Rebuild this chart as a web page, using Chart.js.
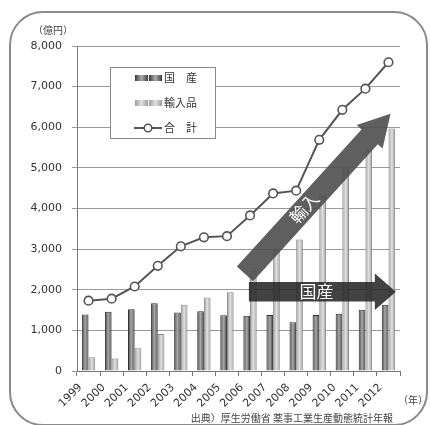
<!DOCTYPE html>
<html>
<head>
<meta charset="utf-8">
<script src="https://cdn.jsdelivr.net/npm/chart.js@4"></script>
<style>
  html, body { margin: 0; padding: 0; background: #fff; }
  #wrap { position: relative; width: 430px; height: 425px; overflow: hidden; }
  #frame { position: absolute; left: 9px; top: 11px; width: 419px; height: 415px;
           border: 2px solid #8a8a8a; border-radius: 34px; box-sizing: border-box; }
  canvas { position: absolute; left: 0; top: 0; }
</style>
</head>
<body>
<div id="wrap">
  <div id="frame"></div>
  <canvas id="chart" width="430" height="425"></canvas>
</div>
<script>
// datos (億円)
const years = ['1999', '2000', '2001', '2002', '2003', '2004', '2005', '2006', '2007', '2008', '2009', '2010', '2011', '2012'];
const domestic = [1390, 1460, 1520, 1670, 1440, 1470, 1370, 1360, 1380, 1200, 1380, 1410, 1510, 1630];
const imports = [340, 310, 560, 910, 1630, 1810, 1940, 2470, 2980, 3240, 4310, 5020, 5440, 5970];
const totals = [1730, 1780, 2080, 2590, 3070, 3290, 3320, 3830, 4370, 4440, 5690, 6430, 6950, 7600];
const legendLabels = ['国　産', '輸入品', '合　計'];
const unitLabel = '（億円）';
const yearLabel = '（年）';
const sourceLabel = '出典）厚生労働省 薬事工業生産動態統計年報';

// flechas: [indice de categoria, valor]
const importArrow = { from: [6.78, 2390], to: [13.09, 6330], text: '輸入' };
const domesticArrow = { from: [6.95, 1950], to: [13.32, 1950], text: '国産' };

const JP = '"Noto Sans CJK JP", sans-serif';
Chart.defaults.font.family = '"DejaVu Sans", sans-serif';
Chart.defaults.color = '#333';

function shade(ctx, el, stops) {
  const g = ctx.createLinearGradient(el.x - el.width / 2, 0, el.x + el.width / 2, 0);
  stops.forEach(([p, c]) => g.addColorStop(p, c));
  return g;
}
const domesticStops = [[0, '#3a3a3a'], [0.35, '#8c8c8c'], [0.5, '#a8a8a8'], [0.65, '#8c8c8c'], [1, '#3a3a3a']];
const importStops = [[0, '#9a9a9a'], [0.5, '#e2e2e2'], [1, '#9a9a9a']];

const barShading = {
  id: 'barShading',
  beforeDatasetsDraw(chart) {
    const ctx = chart.ctx;
    chart.data.datasets.forEach((ds, i) => {
      if (ds.type !== 'bar') return;
      const stops = i === 1 ? domesticStops : importStops;
      chart.getDatasetMeta(i).data.forEach(el => {
        el.options = Object.assign({}, el.options, { backgroundColor: shade(ctx, el, stops) });
      });
    });
  }
};

function drawArrow(ctx, p0, p1, bh, hh, hl, color) {
  const dx = p1[0] - p0[0], dy = p1[1] - p0[1];
  const len = Math.hypot(dx, dy);
  const ux = dx / len, uy = dy / len;
  const nx = -uy, ny = ux;
  const bx = p1[0] - ux * hl, by = p1[1] - uy * hl;
  ctx.beginPath();
  ctx.moveTo(p0[0] + nx * bh, p0[1] + ny * bh);
  ctx.lineTo(bx + nx * bh, by + ny * bh);
  ctx.lineTo(bx + nx * hh, by + ny * hh);
  ctx.lineTo(p1[0], p1[1]);
  ctx.lineTo(bx - nx * hh, by - ny * hh);
  ctx.lineTo(bx - nx * bh, by - ny * bh);
  ctx.lineTo(p0[0] - nx * bh, p0[1] - ny * bh);
  ctx.closePath();
  ctx.fillStyle = color;
  ctx.fill();
  return Math.atan2(dy, dx);
}

const extras = {
  id: 'extras',
  afterDatasetsDraw(chart) {
    const ctx = chart.ctx;
    const xs = chart.scales.x, ys = chart.scales.y;
    const px = (p) => [xs.getPixelForValue(p[0]), ys.getPixelForValue(p[1])];
    ctx.save();

    // flecha 輸入
    let a0 = px(importArrow.from), a1 = px(importArrow.to);
    let ang = drawArrow(ctx, a0, a1, 11, 17.5, 31, 'rgba(78,78,78,0.9)');
    ctx.save();
    ctx.translate(a0[0] + (a1[0] - a0[0]) * 0.40 + 1, a0[1] + (a1[1] - a0[1]) * 0.40 - 2);
    ctx.rotate(ang);
    ctx.fillStyle = '#fff';
    ctx.font = '17px ' + JP;
    ctx.textAlign = 'center';
    ctx.textBaseline = 'middle';
    ctx.fillText(importArrow.text, 0, 0);
    ctx.restore();

    // flecha 国産
    a0 = px(domesticArrow.from); a1 = px(domesticArrow.to);
    drawArrow(ctx, a0, a1, 9.7, 18.3, 21, 'rgba(40,40,40,0.88)');
    ctx.fillStyle = '#fff';
    ctx.font = '17px ' + JP;
    ctx.textAlign = 'center';
    ctx.textBaseline = 'middle';
    ctx.fillText(domesticArrow.text, a0[0] + (a1[0] - a0[0]) * 0.46, a0[1]);

    // leyenda
    const lx = 110, ly = 67, lw = 105, lh = 71;
    ctx.fillStyle = '#fff';
    ctx.fillRect(lx, ly, lw, lh);
    ctx.strokeStyle = '#888';
    ctx.lineWidth = 1;
    ctx.strokeRect(lx + 0.5, ly + 0.5, lw, lh);
    const rows = [78, 103, 128];
    const swatches = [domesticStops, importStops];
    for (let r = 0; r < 2; r++) {
      for (let k = 0; k < 2; k++) {
        const sx = 135 + k * 14;
        const g = ctx.createLinearGradient(sx, 0, sx + 13, 0);
        swatches[r].forEach(([p, c]) => g.addColorStop(p, c));
        ctx.fillStyle = g;
        ctx.fillRect(sx, rows[r] - 3, 13, 6);
      }
    }
    ctx.strokeStyle = '#555';
    ctx.lineWidth = 2;
    ctx.beginPath();
    ctx.moveTo(134, rows[2]); ctx.lineTo(162, rows[2]);
    ctx.stroke();
    ctx.beginPath();
    ctx.arc(148, rows[2], 3.8, 0, Math.PI * 2);
    ctx.fillStyle = '#fff';
    ctx.fill();
    ctx.lineWidth = 1.5;
    ctx.stroke();
    ctx.fillStyle = '#333';
    ctx.font = '11px ' + JP;
    ctx.textAlign = 'left';
    ctx.textBaseline = 'middle';
    legendLabels.forEach((t, i) => ctx.fillText(t, 164, rows[i]));

    // textos
    ctx.fillStyle = '#444';
    ctx.font = '10px ' + JP;
    ctx.textAlign = 'left';
    ctx.fillText(unitLabel, 33, 30);
    ctx.fillText(yearLabel, 398, 400);
    ctx.textAlign = 'right';
    ctx.fillText(sourceLabel, 393, 418);
    ctx.restore();
  }
};

new Chart(document.getElementById('chart'), {
  data: {
    labels: years,
    datasets: [{
      type: 'line',
      label: legendLabels[2],
      data: totals,
      borderColor: '#555',
      borderWidth: 2,
      pointRadius: 4.3,
      pointBackgroundColor: '#fff',
      pointBorderColor: '#555',
      pointBorderWidth: 1.6,
      order: 0
    }, {
      type: 'bar',
      label: legendLabels[0],
      data: domestic,
      backgroundColor: '#777',
      borderColor: '#333',
      borderWidth: 1,
      categoryPercentage: 0.58,
      barPercentage: 1.0,
      order: 1
    }, {
      type: 'bar',
      label: legendLabels[1],
      data: imports,
      backgroundColor: '#ccc',
      borderColor: '#8a8a8a',
      borderWidth: 1,
      categoryPercentage: 0.58,
      barPercentage: 1.0,
      order: 1
    }]
  },
  options: {
    responsive: false,
    animation: false,
    devicePixelRatio: 1,
    layout: { padding: { top: 46, right: 30, left: 0, bottom: 0 } },
    plugins: { legend: { display: false }, tooltip: { enabled: false } },
    scales: {
      x: {
        offset: true,
        grid: { display: true, drawOnChartArea: false, drawTicks: true, tickLength: 5, color: '#777', offset: true },
        border: { display: true, color: '#777' },
        ticks: { autoSkip: false, maxRotation: 45, minRotation: 45, font: { size: 11 }, padding: 5, labelOffset: -8 },
        afterFit: s => { s.height = 54; }
      },
      y: {
        min: 0,
        max: 8000,
        ticks: { stepSize: 1000, font: { size: 11 }, padding: 10,
                 callback: v => v.toLocaleString('en-US') },
        grid: { color: '#999', tickLength: 5 },
        border: { display: true, color: '#777' },
        afterFit: s => { s.width = 77; }
      }
    }
  },
  plugins: [barShading, extras]
});
</script>
</body>
</html>
